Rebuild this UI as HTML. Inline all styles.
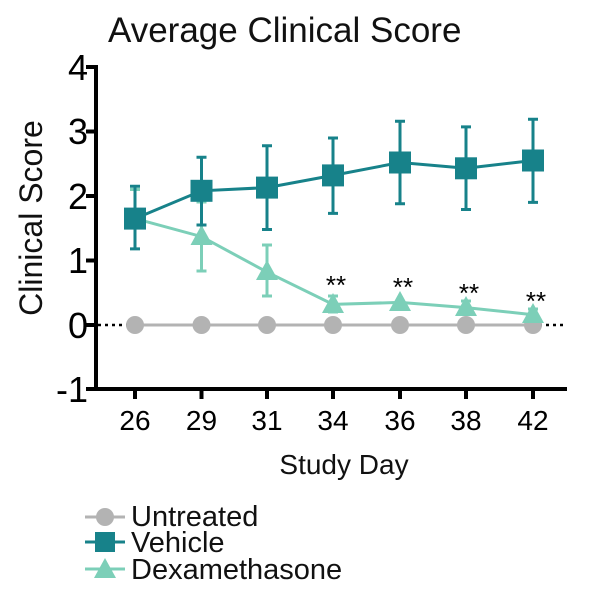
<!DOCTYPE html>
<html><head><meta charset="utf-8"><style>body{margin:0;background:#fff}</style></head><body>
<svg width="600" height="594" xmlns="http://www.w3.org/2000/svg" font-family="Liberation Sans, sans-serif">
<text x="108" y="42" font-size="35" fill="#111">Average Clinical Score</text>
<text transform="translate(42,218) rotate(-90)" font-size="32" text-anchor="middle" fill="#111">Clinical Score</text>
<text x="344" y="474" font-size="28" text-anchor="middle" fill="#111">Study Day</text>
<g stroke="#000" stroke-width="4">
<line x1="96" y1="65" x2="96" y2="391"/>
<line x1="94" y1="389" x2="567" y2="389"/>
<line x1="86" y1="67" x2="96" y2="67"/><line x1="86" y1="131.5" x2="96" y2="131.5"/><line x1="86" y1="196" x2="96" y2="196"/><line x1="86" y1="260.5" x2="96" y2="260.5"/><line x1="86" y1="325" x2="96" y2="325"/><line x1="86" y1="389" x2="96" y2="389"/>
<line x1="135" y1="389" x2="135" y2="399"/><line x1="201.5" y1="389" x2="201.5" y2="399"/><line x1="267" y1="389" x2="267" y2="399"/><line x1="333" y1="389" x2="333" y2="399"/><line x1="400" y1="389" x2="400" y2="399"/><line x1="466" y1="389" x2="466" y2="399"/><line x1="533" y1="389" x2="533" y2="399"/>
</g>
<g font-size="36" text-anchor="end" fill="#000">
<text x="88" y="80">4</text><text x="88" y="144">3</text><text x="88" y="209">2</text><text x="88" y="273">1</text><text x="88" y="338">0</text><text x="88" y="402">-1</text>
</g>
<g font-size="28" text-anchor="middle" fill="#000">
<text x="135" y="430">26</text><text x="201.5" y="430">29</text><text x="267" y="430">31</text><text x="333" y="430">34</text><text x="400" y="430">36</text><text x="466" y="430">38</text><text x="533" y="430">42</text>
</g>
<line x1="98" y1="325" x2="567" y2="325" stroke="#000" stroke-width="2.5" stroke-dasharray="3,4"/>
<line x1="135" y1="325" x2="533" y2="325" stroke="#b3b3b3" stroke-width="3"/>
<g fill="#b3b3b3"><circle cx="135" cy="325" r="9"/><circle cx="201.5" cy="325" r="9"/><circle cx="267" cy="325" r="9"/><circle cx="333" cy="325" r="9"/><circle cx="400" cy="325" r="9"/><circle cx="466" cy="325" r="9"/><circle cx="533" cy="325" r="9"/></g>
<g stroke="#7ccfb8" stroke-width="3" fill="none">
<polyline points="135,218.6 201.5,236.6 267,272.1 333,304.4 400,302.4 466,307.6 533,314.7"/>
<path d="M135,218.6V189.5M130,189.5h10M201.5,236.6V271M196.5,271h10M201.5,236.6V202M196.5,202h10M267,272.1V296M262,296h10M267,272.1V245M262,245h10M333,304.4V296M328,296h10M333,304.4V312M328,312h10M466,307.6V301M461,301h10M533,314.7V309M528,309h10"/>
</g>
<g fill="#7ccfb8">
<polygon points="135,207 146,227 124,227"/><polygon points="201.5,225 212.5,245 190.5,245"/><polygon points="267,260 278,280 256,280"/><polygon points="333,293 344,313 322,313"/><polygon points="400,291 411,311 389,311"/><polygon points="466,296 477,316 455,316"/><polygon points="533,303 544,323 522,323"/>
</g>
<g stroke="#17828a" stroke-width="3" fill="none">
<polyline points="135,218.6 201.5,190.8 267,187.6 333,175.4 400,162.5 466,168.3 533,160.5"/>
<path d="M135,248.9V186.3M130,248.9h10M130,186.3h10M201.5,225V157.3M196.5,225h10M196.5,157.3h10M267,229.5V145.7M262,229.5h10M262,145.7h10M333,213.4V138M328,213.4h10M328,138h10M400,203.7V121.2M395,203.7h10M395,121.2h10M466,209.5V126.9M461,209.5h10M461,126.9h10M533,202.4V119.2M528,202.4h10M528,119.2h10"/>
</g>
<g fill="#17828a">
<rect x="124" y="207.6" width="22" height="22"/><rect x="190.5" y="179.8" width="22" height="22"/><rect x="256" y="176.6" width="22" height="22"/><rect x="322" y="164.4" width="22" height="22"/><rect x="389" y="151.5" width="22" height="22"/><rect x="455" y="157.3" width="22" height="22"/><rect x="522" y="149.5" width="22" height="22"/>
</g>
<g font-size="26" text-anchor="middle" fill="#000">
<text x="336" y="294">**</text><text x="403" y="296">**</text><text x="469" y="302">**</text><text x="536" y="310">**</text>
</g>
<line x1="85" y1="517" x2="125" y2="517" stroke="#b3b3b3" stroke-width="3"/><circle cx="105" cy="517" r="9" fill="#b3b3b3"/>
<text x="131" y="526" font-size="29" fill="#111">Untreated</text>
<line x1="85" y1="542" x2="125" y2="542" stroke="#17828a" stroke-width="3"/><rect x="95" y="532" width="20" height="20" fill="#17828a"/>
<text x="131" y="552" font-size="29" fill="#111">Vehicle</text>
<line x1="85" y1="569" x2="125" y2="569" stroke="#7ccfb8" stroke-width="3"/><polygon points="105,558 116,578 94,578" fill="#7ccfb8"/>
<text x="131" y="579" font-size="29" fill="#111">Dexamethasone</text>
</svg>
</body></html>
